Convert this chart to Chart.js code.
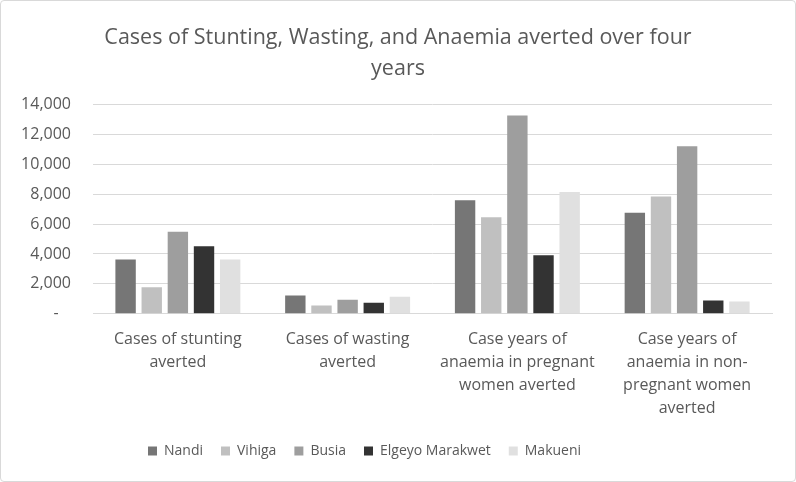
<!DOCTYPE html>
<html>
<head>
<meta charset="utf-8">
<script src="https://cdn.jsdelivr.net/npm/chart.js@4.4.1/dist/chart.umd.min.js"></script>
<style>
  html, body { margin: 0; padding: 0; background: #fff; }
  .frame {
    width: 796px; height: 482px; box-sizing: border-box;
    border: 1px solid #d9d9d9; border-radius: 4px; overflow: hidden;
  }
  #chart { display: block; }
</style>
</head>
<body>
<div class="frame"><canvas id="chart" width="794" height="480"></canvas></div>
<script>
  "use strict";

  const categories = [
    ["Cases of stunting", "averted"],
    ["Cases of wasting", "averted"],
    ["Case years of", "anaemia in pregnant", "women averted"],
    ["Case years of", "anaemia in non-", "pregnant women", "averted"],
  ];

  const nandi = [3630, 1230, 7590, 6760];
  const vihiga = [1770, 560, 6450, 7840];
  const busia = [5480, 940, 13260, 11200];
  const elgeyoMarakwet = [4520, 740, 3920, 890];
  const makueni = [3630, 1140, 8150, 830];

  const yTicks = [0, 2000, 4000, 6000, 8000, 10000, 12000, 14000];

  const textColor = "#595959";
  const fontFamily = "'Open Sans', 'Liberation Sans', sans-serif";

  function series(label, data, color) {
    return {
      label,
      data,
      backgroundColor: color,
      borderWidth: 0,
      barPercentage: 0.78,
      categoryPercentage: 0.77,
    };
  }

  const datasets = [
    series("Nandi", nandi, "#767676"),
    series("Vihiga", vihiga, "#c0c0c0"),
    series("Busia", busia, "#9e9e9e"),
    series("Elgeyo Marakwet", elgeyoMarakwet, "#333333"),
    series("Makueni", makueni, "#e0e0e0"),
  ];

  // centre the title on the whole canvas and put the legend where the original has it
  const placeBlocks = {
    id: "placeBlocks",
    afterLayout(chart) {
      chart.titleBlock.left = 0;
      chart.titleBlock.right = chart.width;
      chart.legend.left = 129;
    },
  };

  new Chart(document.getElementById("chart"), {
    type: "bar",
    data: {labels: categories, datasets},
    plugins: [placeBlocks],
    options: {
      responsive: false,
      animation: false,
      layout: {padding: {left: 8, right: 23, top: 21, bottom: 13}},
      plugins: {
        title: {
          display: true,
          text: ["Cases of Stunting, Wasting, and Anaemia averted over four", "years"],
          color: textColor,
          font: {family: fontFamily, size: 21.5, weight: "normal", lineHeight: 1.45},
          padding: {top: 0, bottom: 20},
        },
        legend: {
          position: "bottom",
          align: "start",
          labels: {
            color: textColor,
            font: {family: fontFamily, size: 14},
            boxWidth: 9,
            boxHeight: 9,
            padding: 18,
          },
        },
        tooltip: {enabled: false},
      },
      scales: {
        x: {
          grid: {display: false},
          border: {color: "#d9d9d9"},
          ticks: {
            color: textColor,
            font: {family: fontFamily, size: 16, lineHeight: 1.44},
            maxRotation: 0,
            autoSkip: false,
            padding: 6,
          },
        },
        y: {
          min: 0,
          max: 14000,
          afterFit(scale) { scale.width = 84; },
          afterBuildTicks(scale) { scale.ticks = yTicks.map((v) => ({value: v})); },
          grid: {color: "#d9d9d9", drawTicks: false},
          border: {display: false},
          ticks: {
            color: textColor,
            font: {family: fontFamily, size: 16},
            padding: 22,
            callback: (v) => (v === 0 ? "-   " : v.toLocaleString("en-US")),
          },
        },
      },
    },
  });
</script>
</body>
</html>
